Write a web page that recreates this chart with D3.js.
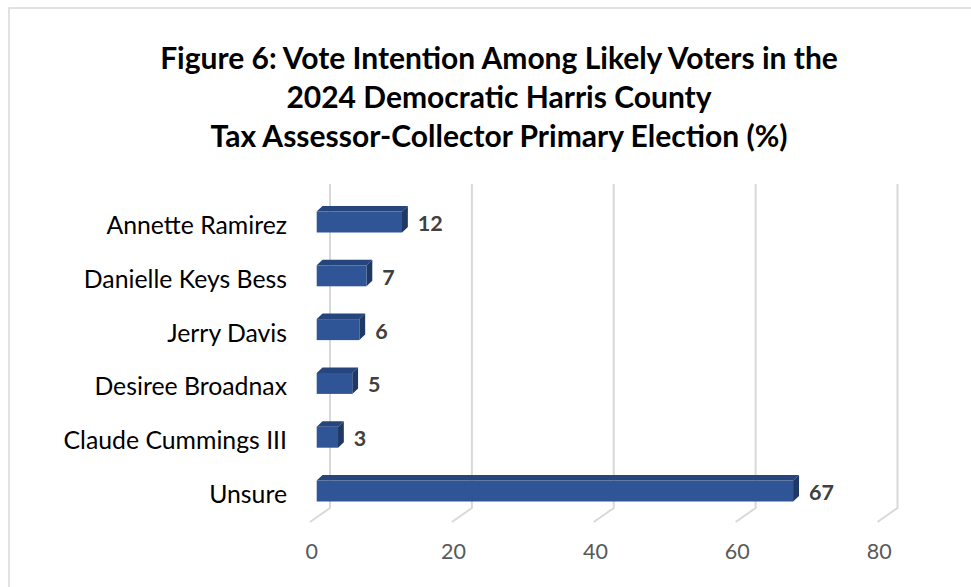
<!DOCTYPE html>
<html>
<head>
<meta charset="utf-8">
<script src="https://cdn.jsdelivr.net/npm/d3@7"></script>
<style>
  html, body { margin: 0; padding: 0; background: #fff; }
  svg { display: block; }
</style>
</head>
<body>
<svg id="chart" width="971" height="587"></svg>
<script>
const titleLines = [
  "Figure 6: Vote Intention Among Likely Voters in the",
  "2024 Democratic Harris County",
  "Tax Assessor-Collector Primary Election (%)"
];
const categories = ["Annette Ramirez", "Danielle Keys Bess", "Jerry Davis", "Desiree Broadnax", "Claude Cummings III", "Unsure"];
const values = [12, 7, 6, 5, 3, 67];
const tickValues = [0, 20, 40, 60, 80];

const svg = d3.select("#chart");
const FONT = "Lato, 'Open Sans', sans-serif";

// chart border
svg.append("rect").attr("x", 9).attr("y", 8).attr("width", 975).attr("height", 600)
  .attr("fill", "#fff").attr("stroke", "#d9d9d9").attr("stroke-width", 1.5);

// scales
const xBack = d3.scaleLinear().domain([0, 80]).range([330, 897.5]);   // back wall
const xFront = d3.scaleLinear().domain([0, 80]).range([316.7, 885.5]); // bar front face
const xBarBack = d3.scaleLinear().domain([0, 80]).range([322.5, 891.5]); // bar back face
const y = d3.scalePoint().domain(categories).range([222, 491]);

const gridTop = 184, gridBottom = 508, floorDx = -20, floorDy = 14;

// gridlines (back wall + floor)
const grid = svg.append("g");
tickValues.forEach(t => {
  const x = xBack(t);
  grid.append("path")
    .attr("d", `M${x},${gridTop}L${x},${gridBottom}L${x + floorDx},${gridBottom + floorDy}`)
    .attr("fill", "none").attr("stroke", "#d9d9d9").attr("stroke-width", 2);
});

// tick labels
svg.append("g").selectAll("text").data(tickValues).join("text")
  .attr("x", d => xBack(d) - 18.3)
  .attr("y", 559)
  .attr("text-anchor", "middle")
  .attr("font-family", FONT).attr("font-size", 21.5)
  .attr("fill", "#595959")
  .text(d => d);

// bars
const barH = 21, depthY = 5.5;
const bars = svg.append("g");
categories.forEach((c, i) => {
  const v = values[i];
  const yc = y(c);
  const top = yc - barH / 2, bot = yc + barH / 2;
  const x0 = xFront(0), x1 = xFront(v);
  const bx0 = xBarBack(0), bx1 = xBarBack(v);
  // top face
  bars.append("path")
    .attr("d", `M${x0},${top}L${bx0},${top - depthY}L${bx1},${top - depthY}L${x1},${top}Z`)
    .attr("fill", "#26457d");
  // side face
  bars.append("path")
    .attr("d", `M${x1},${top}L${bx1},${top - depthY}L${bx1},${bot - depthY}L${x1},${bot}Z`)
    .attr("fill", "#1f3864");
  // front face
  bars.append("rect")
    .attr("x", x0).attr("y", top).attr("width", x1 - x0).attr("height", barH)
    .attr("fill", "#2f5597");
});

// data labels
svg.append("g").selectAll("text").data(categories).join("text")
  .attr("x", (c, i) => xBarBack(values[i]) + 10)
  .attr("y", c => y(c) + 9)
  .attr("font-family", FONT).attr("font-size", 21.5).attr("font-weight", "bold")
  .attr("fill", "#404040")
  .text((c, i) => values[i]);

// category labels
svg.append("g").selectAll("text").data(categories).join("text")
  .attr("x", 287)
  .attr("y", c => y(c) + 12)
  .attr("text-anchor", "end")
  .attr("font-family", FONT).attr("font-size", 24.8)
  .attr("fill", "#000")
  .text(c => c);

// title
const titleY = [69, 108, 147];
svg.append("g").selectAll("text").data(titleLines).join("text")
  .attr("x", 499)
  .attr("y", (d, i) => titleY[i])
  .attr("text-anchor", "middle")
  .attr("font-family", FONT).attr("font-size", 30).attr("font-weight", "bold")
  .attr("fill", "#000")
  .text(d => d);
</script>
</body>
</html>
